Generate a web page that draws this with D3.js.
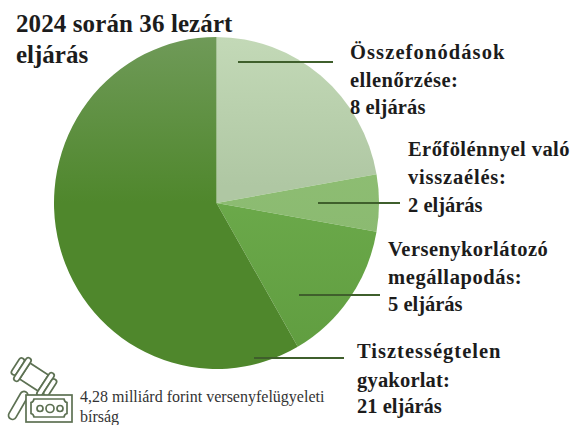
<!DOCTYPE html>
<html><head><meta charset="utf-8">
<script src="https://cdn.jsdelivr.net/npm/d3@7/dist/d3.min.js"></script>
<style>html,body{margin:0;padding:0;background:#fff}svg{display:block}</style></head>
<body><svg id="c" width="580" height="425"></svg>
<script>
const categories = ["Összefonódások ellenőrzése","Erőfölénnyel való visszaélés","Versenykorlátozó megállapodás","Tisztességtelen gyakorlat"];
const values = [8,2,5,21];
const colorsTop = ["#c3d9b7","#8dbd72","#6dab4c","#6f9a58"];
const colorsBottom = ["#afc7a3","#88b470","#5f9c3f","#4f872c"];
const titleLines = ["2024 során 36 lezárt","eljárás"];
const labelLines = [
  ["Összefonódások","ellenőrzése:","8 eljárás"],
  ["Erőfölénnyel való","visszaélés:","2 eljárás"],
  ["Versenykorlátozó","megállapodás:","5 eljárás"],
  ["Tisztességtelen","gyakorlat:","21 eljárás"]];
const noteLines = ["4,28 milliárd forint versenyfelügyeleti","bírság"];

const svg = d3.select("#c");
const font = "'Liberation Serif', serif";
const cx=216.5, cy=203, R=166, sx=162.5/166;
const defs = svg.append("defs");
const stops=[[0,0.45],[0.4,1],[0.4,1],[0,0.5]];
values.forEach((v,i)=>{
  const g = defs.append("linearGradient").attr("id","g"+i).attr("gradientUnits","userSpaceOnUse")
    .attr("x1",0).attr("x2",0).attr("y1",-R).attr("y2",R);
  g.append("stop").attr("offset",stops[i][0]).attr("stop-color",colorsTop[i]);
  g.append("stop").attr("offset",stops[i][1]).attr("stop-color",colorsBottom[i]);
});
const pie = d3.pie().sort(null)(values);
const arc = d3.arc().innerRadius(0).outerRadius(R);
const gp = svg.append("g").attr("transform",`translate(${cx},${cy}) scale(${sx},1)`);
gp.selectAll("path").data(pie).join("path").attr("d",arc).attr("fill",(d,i)=>`url(#g${i})`);

const leaders = [[238,333,62],[318,400,203],[299,380,295],[254,344,358]];
svg.selectAll("line.l").data(leaders).join("line").attr("class","l")
  .attr("x1",d=>d[0]).attr("x2",d=>d[1]).attr("y1",d=>d[2]).attr("y2",d=>d[2])
  .attr("stroke","#3f5f2c").attr("stroke-width",2);

function block(lines,x,ys,size,weight,fill,ls){
  const t = svg.append("text").attr("font-family",font).attr("font-size",size)
    .attr("font-weight",weight).attr("fill",fill);
  lines.forEach((s,i)=>t.append("tspan").attr("x",x).attr("y",ys[i]).attr("letter-spacing",ls[i]).text(s));
}
block(titleLines,16,[32,63],25,"bold","#1c1c1c",[0.1,0]);
const pos=[[350,[59,87,114],[1.1,0.5,0.1]],[408,[156,184,212],[0.45,0.8,0]],[388,[256,284,311],[0.45,0.6,0]],[357,[358,387,413],[1.0,0.2,0]]];
labelLines.forEach((l,i)=>block(l,pos[i][0],pos[i][1],20.5,"bold","#1c1c1c",pos[i][2]));
block(noteLines,80,[402,422],16,"normal","#333",[0,0]);

// gavel + banknote icon
const ic = svg.append("g").attr("fill","none").attr("stroke","#5d7153").attr("stroke-width",1.7);
ic.append("g").attr("transform","translate(26,392) rotate(30)")
  .append("rect").attr("x",-4).attr("y",0).attr("width",8).attr("height",31).attr("rx",4).attr("fill","#fff");
const h = ic.append("g").attr("transform","translate(34,377) rotate(33)");
h.append("rect").attr("x",-11).attr("y",-9.5).attr("width",22).attr("height",19).attr("fill","#fff");
[[-22,19],[-16.5,27],[11,27],[16.5,19]].forEach(d=>{
  h.append("rect").attr("x",d[0]).attr("y",-d[1]/2).attr("width",5.5).attr("height",d[1]).attr("rx",2.7).attr("fill","#fff");
});
ic.append("rect").attr("x",26).attr("y",395).attr("width",46).attr("height",27).attr("fill","#fff");
ic.append("path").attr("d","M34,399 H64 Q64.5,402 67,402.5 V413.5 Q64.5,414 64,417 H34 Q33.5,414 31,413.5 V402.5 Q33.5,402 34,399 Z");
[40,50,60].forEach((x,i)=>ic.append("circle").attr("cx",x).attr("cy",408.5).attr("r",i===1?4:3));
</script></body></html>
